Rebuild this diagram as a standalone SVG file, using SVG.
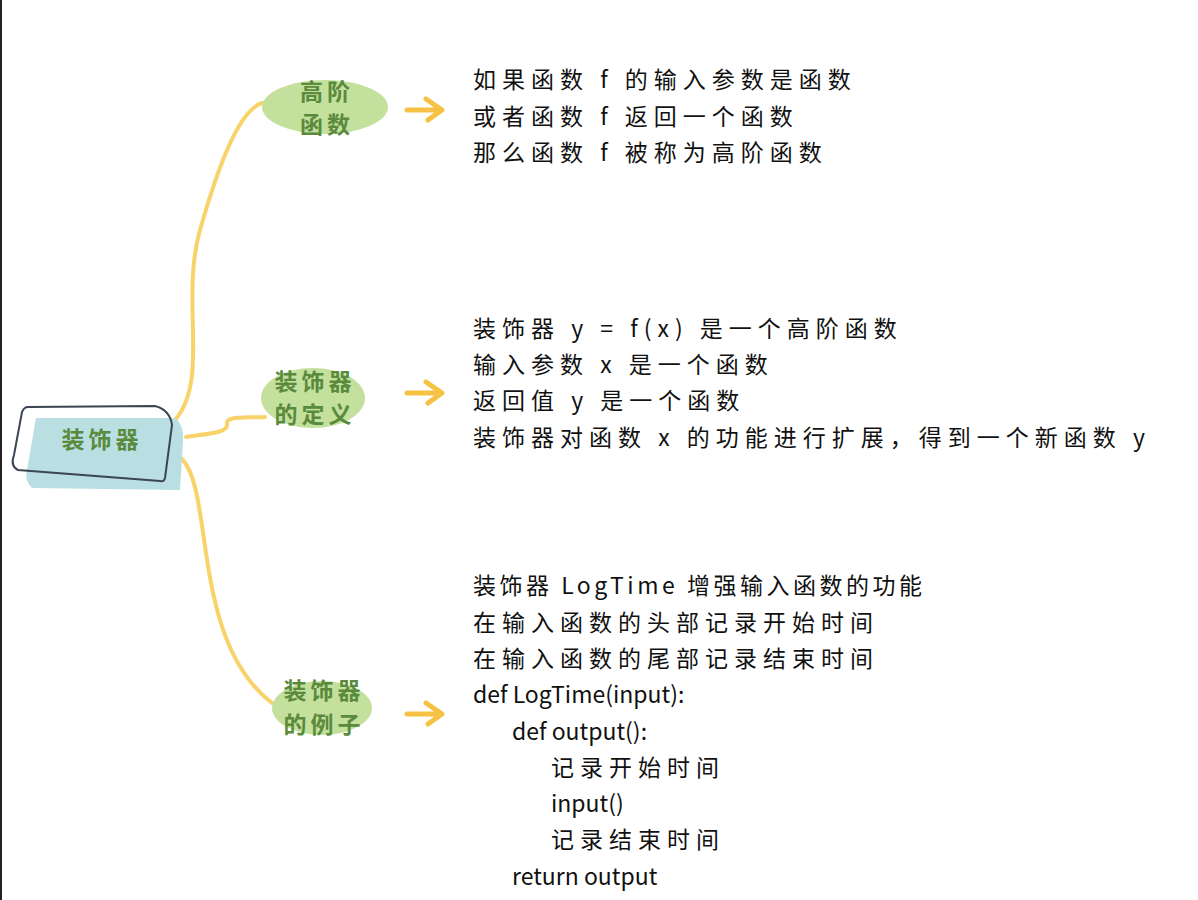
<svg xmlns="http://www.w3.org/2000/svg" width="1198" height="900" viewBox="0 0 1198 900">
<style>
.t{font-family:"Noto Sans CJK SC","Liberation Sans",sans-serif;font-size:23px;fill:#111;}
.z{letter-spacing:6px;}
.n{font-family:"Noto Sans CJK SC",sans-serif;font-size:23px;fill:#5a8a3c;text-anchor:middle;font-weight:bold;letter-spacing:4px;}
.c{fill:none;stroke:#f8d36a;stroke-width:4;stroke-linecap:round;}
.a{fill:none;stroke:#f6c244;stroke-width:5;stroke-linecap:round;stroke-linejoin:round;}
</style>
<rect width="1198" height="900" fill="#fff"/>
<line x1="1" y1="0" x2="1" y2="900" stroke="#222" stroke-width="2"/>
<g id="connectors">
<path class="c" d="M175,420 C210,380 180,300 200,230 C220,160 240,110 262,103"/>
<path class="c" d="M186,437 C215,433 228,432 227,424 C226,416 240,418 265,417"/>
<path class="c" d="M181,458 C215,490 190,640 272,703"/>
<path class="a" d="M407,110 L440,110 M426,99 L442,110 L428,120"/>
<path class="a" d="M407,393 L440,393 M426,382 L442,393 L428,403"/>
<path class="a" d="M407,714 L440,714 M426,703 L442,714 L428,724"/>
</g>
<g id="center">
<path d="M36,418 L175,418 Q184,425 183,440 L180,490 L32,488 Q24,480 27,470 Z" fill="#b9dfe3"/>
<path d="M28,407 L155,406 Q170,410 172,425 L165,478 Q164,482 160,481 L18,470 Q10,466 14,455 L22,412 Q24,407 28,407 Z" fill="none" stroke="#3b4553" stroke-width="2"/>
<text class="n" x="102" y="448" font-size="27">装饰器</text>
</g>
<g id="n1">
<ellipse cx="325" cy="107" rx="63" ry="27" fill="#c4e09d"/>
<text class="n" x="327" y="100">高阶</text>
<text class="n" x="327" y="133">函数</text>
</g>
<g id="n2">
<ellipse cx="313" cy="398" rx="52" ry="30" fill="#c4e09d"/>
<text class="n" x="315" y="390">装饰器</text>
<text class="n" x="315" y="423">的定义</text>
</g>
<g id="n3">
<ellipse cx="322" cy="708" rx="50" ry="27" fill="#c4e09d"/>
<text class="n" x="324" y="699">装饰器</text>
<text class="n" x="324" y="733">的例子</text>
</g>
<g id="txt1">
<text class="t z" x="473" y="88">如果函数 f 的输入参数是函数</text>
<text class="t z" x="473" y="125">或者函数 f 返回一个函数</text>
<text class="t z" x="473" y="161">那么函数 f 被称为高阶函数</text>
</g>
<g id="txt2">
<text class="t z" x="473" y="337">装饰器 y = f(x) 是一个高阶函数</text>
<text class="t z" x="473" y="373">输入参数 x 是一个函数</text>
<text class="t z" x="473" y="409">返回值 y 是一个函数</text>
<text class="t z" x="473" y="446">装饰器对函数 x 的功能进行扩展，得到一个新函数 y</text>
</g>
<g id="txt3">
<text class="t" x="473" y="594" letter-spacing="3.5">装饰器 LogTime 增强输入函数的功能</text>
<text class="t z" x="473" y="631">在输入函数的头部记录开始时间</text>
<text class="t z" x="473" y="667">在输入函数的尾部记录结束时间</text>
<text class="t" x="473" y="703">def LogTime(input):</text>
<text class="t" x="512" y="740">def output():</text>
<text class="t z" x="551" y="776">记录开始时间</text>
<text class="t" x="551" y="812">input()</text>
<text class="t z" x="551" y="848">记录结束时间</text>
<text class="t" x="512" y="885">return output</text>
</g>
</svg>
